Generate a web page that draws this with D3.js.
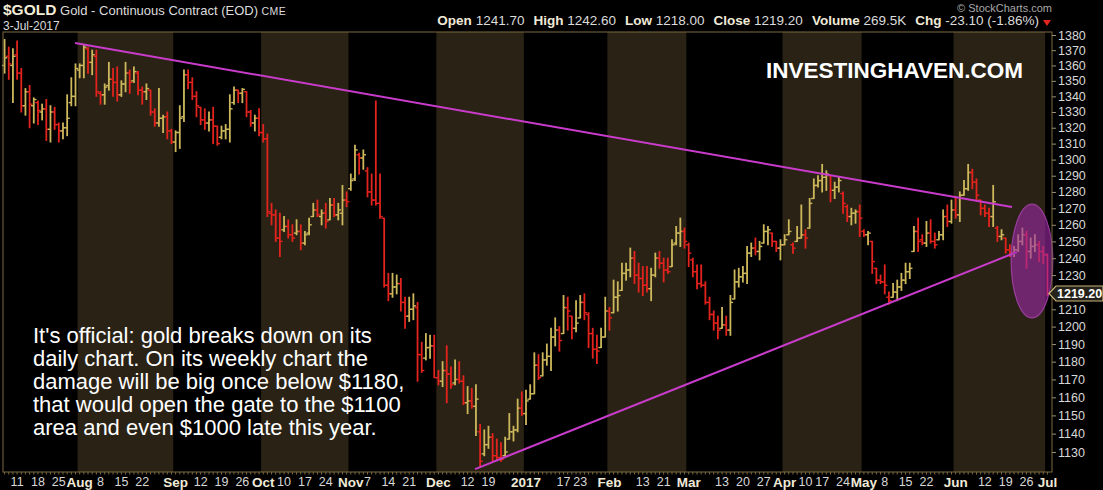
<!DOCTYPE html>
<html><head><meta charset="utf-8">
<script src="https://cdn.jsdelivr.net/npm/d3@7"></script>
<style>html,body{margin:0;padding:0;background:#000;overflow:hidden}svg{display:block}</style>
</head><body>
<svg id="chart" width="1103" height="490"></svg>
<script>
// ---------- DATA ----------
const startDate = "2016-07-06", endDate = "2017-07-03";
const holidays = ["2016-09-05","2016-11-24","2016-12-26","2017-01-02","2017-01-16","2017-02-20","2017-04-14","2017-05-29"];

const openP = [
1360,1366,1360,1367,1355,1334,1343,1334,1336,1330,
1332,1319,1330,1322,1318,1320,1336,1340,1357,1360,
1371,1362,1366,1342,1341,1347,1351,1349,1341,1348,
1355,1350,1355,1344,1343,1344,1330,1323,1326,1327,
1318,1311,1317,1327,1354,1349,1340,1333,1325,1323,
1325,1321,1314,1318,1319,1336,1344,1342,1343,1330,
1323,1326,1317,1313,1267,1266,1252,1257,1259,1254,
1255,1256,1249,1255,1265,1269,1265,1267,1263,1272,
1266,1267,1275,1282,1288,1303,1301,1293,1280,1275,
1273,1264,1224,1219,1223,1225,1214,1206,1210,1211,
1184,1182,1188,1189,1171,1169,1175,1173,1168,1170,
1169,1157,1158,1155,1141,1129,1134,1138,1128,1127,
1128,1137,1141,1142,1154,1151,1159,1162,1178,1172,
1181,1183,1194,1198,1196,1211,1206,1199,1205,1214,
1207,1196,1187,1188,1194,1209,1208,1217,1221,1231,
1233,1240,1230,1228,1224,1222,1230,1240,1237,1233,
1235,1249,1255,1256,1248,1239,1232,1225,1224,1214,
1207,1202,1199,1201,1198,1216,1226,1229,1231,1243,
1246,1244,1249,1256,1255,1250,1246,1248,1254,1248,
1250,1252,1254,1258,1276,1284,1287,1289,1290,1281,
1283,1279,1271,1265,1267,1268,1256,1254,1250,1234,
1227,1226,1217,1217,1220,1223,1227,1232,1244,1256,
1251,1249,1255,1250,1251,1254,1265,1262,1269,1266,
1278,1282,1292,1286,1275,1270,1267,1265,1258,1253,
1252,1245,1243,1245,1250,1254,1244,1247,1248,1244,
1241.7];

const high = [
1377,1372,1371,1376,1358,1345,1347,1339,1337,1335,
1338,1334,1333,1323,1323,1341,1352,1361,1361,1373,
1372,1370,1370,1343,1348,1362,1358,1359,1350,1362,
1357,1359,1356,1346,1348,1344,1332,1345,1328,1330,
1319,1318,1334,1357,1357,1352,1343,1333,1332,1330,
1333,1321,1321,1322,1341,1346,1344,1345,1343,1331,
1328,1332,1322,1316,1273,1269,1267,1265,1263,1260,
1263,1260,1256,1264,1273,1275,1269,1273,1276,1276,
1273,1284,1280,1291,1309,1304,1306,1295,1291,1337,
1291,1264,1231,1231,1230,1228,1217,1217,1219,1214,
1191,1196,1195,1195,1175,1180,1189,1177,1181,1180,
1172,1166,1165,1167,1145,1142,1144,1140,1137,1135,
1138,1151,1144,1159,1163,1164,1167,1185,1184,1185,
1190,1199,1205,1200,1218,1217,1206,1215,1218,1219,
1208,1199,1195,1199,1217,1211,1227,1226,1237,1237,
1246,1244,1237,1235,1235,1234,1243,1244,1240,1240,
1251,1259,1264,1258,1249,1240,1236,1236,1226,1217,
1209,1206,1211,1206,1218,1233,1234,1235,1247,1249,
1252,1250,1260,1259,1255,1250,1251,1254,1263,1249,
1259,1272,1257,1276,1288,1290,1297,1293,1290,1286,
1289,1280,1272,1270,1269,1272,1257,1256,1250,1234,
1230,1236,1220,1225,1227,1231,1237,1237,1259,1264,
1254,1262,1263,1255,1256,1269,1272,1275,1277,1280,
1287,1297,1294,1288,1275,1272,1270,1284,1259,1257,
1252,1248,1247,1254,1258,1256,1252,1254,1250,1247,
1242.6];

const low = [
1355,1351,1336,1351,1330,1328,1320,1323,1322,1325,
1312,1311,1319,1311,1313,1315,1334,1334,1352,1352,
1355,1354,1340,1335,1335,1344,1340,1337,1340,1343,
1342,1349,1341,1335,1338,1328,1321,1321,1317,1313,
1310,1305,1307,1324,1345,1338,1327,1322,1319,1318,
1310,1309,1313,1313,1311,1335,1336,1336,1327,1321,
1318,1315,1311,1265,1260,1250,1241,1256,1252,1250,
1254,1245,1248,1254,1265,1265,1260,1258,1263,1265,
1263,1260,1271,1281,1287,1291,1294,1277,1272,1272,
1264,1223,1215,1217,1219,1209,1199,1203,1204,1169,
1174,1181,1182,1171,1167,1166,1157,1165,1167,1168,
1156,1151,1154,1139,1122,1128,1132,1125,1126,1125,
1128,1137,1136,1141,1150,1145,1159,1162,1170,1172,
1178,1175,1189,1186,1196,1198,1193,1197,1205,1204,
1188,1182,1179,1188,1194,1198,1208,1209,1221,1227,
1229,1225,1220,1218,1220,1215,1229,1234,1226,1231,
1235,1248,1247,1246,1235,1229,1222,1223,1213,1204,
1198,1193,1199,1195,1195,1216,1223,1226,1225,1241,
1242,1239,1249,1248,1247,1244,1239,1248,1254,1243,
1250,1252,1246,1258,1276,1283,1280,1281,1274,1276,
1280,1267,1262,1260,1261,1253,1253,1248,1231,1225,
1225,1219,1213,1217,1215,1221,1225,1228,1244,1244,
1248,1247,1249,1246,1251,1251,1259,1261,1264,1262,
1278,1281,1282,1275,1266,1265,1259,1259,1250,1251,
1243,1241,1241,1244,1248,1234,1240,1244,1238,1237,
1218];

const close = [
1365,1361,1366,1355,1334,1343,1335,1338,1331,1332,
1319,1330,1322,1318,1320,1326,1340,1358,1360,1372,
1362,1367,1343,1341,1346,1351,1349,1341,1348,1355,
1349,1356,1344,1343,1345,1330,1323,1326,1327,1318,
1311,1317,1326,1354,1349,1340,1334,1325,1323,1325,
1321,1310,1318,1319,1332,1344,1342,1344.5,1330,1323,
1326,1317,1313,1268,1266,1252,1250,1259,1254,1252,
1256,1249,1254,1260,1269,1266,1267,1262,1272,1266,
1269,1275,1274,1287,1306,1301,1303,1280,1275,1273,
1265,1224,1219,1223,1225,1214,1206,1210,1212,1184,
1175,1188,1189,1171,1169,1175,1173,1167,1170,1169,
1157,1158,1155,1159,1125,1134,1138,1128,1127,1126,
1130,1141,1142,1154,1151,1158,1162,1178,1171,1181,
1183,1194,1198,1192,1211,1209,1199,1202,1214,1208,
1196,1187,1186,1194,1209,1205,1217,1218,1231,1233,
1240,1230,1228,1224,1222,1230,1240,1237,1233,1232,
1248,1255,1256,1250,1243,1232,1225,1224,1214,1207,
1202,1198,1201,1198,1214,1226,1229,1231,1243,1246,
1244,1247,1256,1257,1250,1246,1248,1251,1256,1246,
1252,1254,1252,1273,1284,1287,1289,1291,1281,1283,
1287,1273,1265,1267,1268,1264,1254,1255,1238,1227,
1226,1224,1215,1220,1223,1227,1232,1234,1256,1250,
1249,1255,1250,1248,1254,1265,1262,1269,1266,1278,
1282,1292,1286,1278,1270,1267,1265,1274,1253,1254,
1245,1243,1245,1250,1254,1244,1247,1248,1244,1242.3,
1219.2];

const yTicks = [1130,1140,1150,1160,1170,1180,1190,1200,1210,1230,1240,1250,1260,1270,1280,1290,1300,1310,1320,1330,1340,1350,1360,1370,1380];

const xLabels = [
["2016-07-11","11",0],["2016-07-18","18",0],["2016-07-25","25",0],["2016-08-01","Aug",1],
["2016-08-08","8",0],["2016-08-15","15",0],["2016-08-22","22",0],["2016-09-01","Sep",1],
["2016-09-12","12",0],["2016-09-19","19",0],["2016-09-26","26",0],["2016-10-03","Oct",1],
["2016-10-10","10",0],["2016-10-17","17",0],["2016-10-24","24",0],["2016-11-01","Nov",1],
["2016-11-07","7",0],["2016-11-14","14",0],["2016-11-21","21",0],["2016-12-01","Dec",1],
["2016-12-12","12",0],["2016-12-19","19",0],["2017-01-03","2017",1],["2017-01-17","17",0],
["2017-01-23","23",0],["2017-02-01","Feb",1],["2017-02-13","13",0],["2017-02-21","21",0],
["2017-03-01","Mar",1],["2017-03-13","13",0],["2017-03-20","20",0],["2017-03-27","27",0],
["2017-04-03","Apr",1],["2017-04-10","10",0],["2017-04-17","17",0],["2017-04-24","24",0],
["2017-05-01","May",1],["2017-05-08","8",0],["2017-05-15","15",0],["2017-05-22","22",0],
["2017-06-01","Jun",1],["2017-06-12","12",0],["2017-06-19","19",0],["2017-06-26","26",0],
["2017-07-03","Jul",1]];

// trendlines: [bar index, price]
const upperTrend = [[16.9,1374.7],[241.5,1270.8]];
const lowerTrend = [[112.8,1120.8],[242.7,1243.7]];
// highlight ellipse: centre bar index, half width in bars, top / bottom price
const ellipseSpec = [246.3, 5, 1272.5, 1205];

const headerStats = [["Open","1241.70"],["High","1242.60"],["Low","1218.00"],["Close","1219.20"],["Volume","269.5K"],["Chg","-23.10 (-1.86%)"]];
const noteLines = ["It's official: gold breaks down on its","daily chart. On its weekly chart the","damage will be big once below $1180,","that would open the gate to the $1100","area and even $1000 late this year."];

// ---------- CHART ----------
const font = "'Liberation Sans', Arial, Helvetica, sans-serif";
const plot = {left:3, right:1052, top:32, bottom:472};
const UP = "#cdb95c", DOWN = "#e3231d", BAND = "#2a2215", FRAME = "#7a6a40", MAG = "#c93ccb";

const parse = d3.utcParse("%Y-%m-%d"), fmt = d3.utcFormat("%Y-%m-%d");
const hol = new Set(holidays);
const dates = d3.utcDay.range(parse(startDate), d3.utcDay.offset(parse(endDate),1))
  .filter(d => d.getUTCDay()!==0 && d.getUTCDay()!==6 && !hol.has(fmt(d))).map(fmt);
const n = dates.length;

const x = d3.scaleBand().domain(dates).range([2.5,1049.5]);
const xi = d3.scaleLinear().domain([-0.5, n-0.5]).range([2.5,1049.5]);
const y = d3.scaleLog().domain([1130,1380]).range([452,35]);
const cx = d => x(d) + x.bandwidth()/2;

const svg = d3.select("#chart").style("font-family", font);
svg.append("rect").attr("width",1103).attr("height",490).attr("fill","#000");

// month bands
const monthStarts = [];
dates.forEach((d,i)=>{ if(i===0 || d.slice(0,7)!==dates[i-1].slice(0,7)) monthStarts.push(i); });
monthStarts.forEach((s,k)=>{
  const x0 = k===0 ? plot.left : x(dates[s]);
  const x1 = k===monthStarts.length-1 ? plot.right : x(dates[monthStarts[k+1]]);
  const m = parse(dates[s]).getUTCMonth();
  svg.append("rect").attr("x",x0).attr("y",plot.top).attr("width",x1-x0).attr("height",plot.bottom-plot.top)
     .attr("fill", m%2===1 ? BAND : "#000");
});

// bars
const bars = dates.map((d,i)=>({d,i,o:openP[i],h:high[i],l:low[i],c:close[i],up: i===0 || close[i]>=close[i-1]}));
const gb = svg.append("g");
const bg = gb.selectAll("g").data(bars).join("g").attr("stroke", b=>b.up?UP:DOWN).attr("stroke-width",1.8);
bg.append("line").attr("x1",b=>cx(b.d)).attr("x2",b=>cx(b.d)).attr("y1",b=>y(b.h)-0.5).attr("y2",b=>y(b.l)+0.5);
bg.append("line").attr("x1",b=>cx(b.d)-2.7).attr("x2",b=>cx(b.d)).attr("y1",b=>y(b.o)).attr("y2",b=>y(b.o)).attr("stroke-width",1.4);
bg.append("line").attr("x1",b=>cx(b.d)).attr("x2",b=>cx(b.d)+2.7).attr("y1",b=>y(b.c)).attr("y2",b=>y(b.c)).attr("stroke-width",1.4);

// trendlines
[upperTrend, lowerTrend].forEach(t=>{
  svg.append("line").attr("x1",xi(t[0][0])).attr("y1",y(t[0][1])).attr("x2",xi(t[1][0])).attr("y2",y(t[1][1]))
     .attr("stroke",MAG).attr("stroke-width",2);
});

// ellipse
{
  const [ci, hw, top, bot] = ellipseSpec;
  svg.append("ellipse").attr("cx",xi(ci)).attr("cy",(y(top)+y(bot))/2)
    .attr("rx",xi(ci+hw)-xi(ci)).attr("ry",(y(bot)-y(top))/2)
    .attr("fill","#a02aa8").attr("fill-opacity",0.6).attr("stroke","#b848c0").attr("stroke-width",1.2).attr("stroke-opacity",0.7);
}

// frame
svg.append("rect").attr("x",plot.left).attr("y",plot.top).attr("width",plot.right-plot.left).attr("height",plot.bottom-plot.top)
   .attr("fill","none").attr("stroke",FRAME).attr("stroke-width",1);
// bottom day ticks
svg.append("g").selectAll("line").data(dates).join("line")
   .attr("x1",cx).attr("x2",cx).attr("y1",plot.bottom).attr("y2",plot.bottom+2.5).attr("stroke",FRAME).attr("stroke-width",1);

// y axis
const yAxis = d3.axisRight(y).tickValues(yTicks).tickFormat(d3.format("d")).tickSize(4).tickPadding(2);
const ga = svg.append("g").attr("transform",`translate(${plot.right},0)`).call(yAxis);
ga.select(".domain").remove();
ga.selectAll(".tick line").attr("stroke","#9a9070");
ga.selectAll(".tick text").attr("fill","#d8d8d8").style("font-size","12.5px").style("font-family",font);

// x axis
const lab = new Map(xLabels.map(l=>[l[0],l]));
const xAxis = d3.axisBottom(x).tickValues(xLabels.map(l=>l[0])).tickFormat(d=>lab.get(d)[1]).tickSize(0).tickPadding(5);
const gx = svg.append("g").attr("transform",`translate(0,${plot.bottom})`).call(xAxis);
gx.select(".domain").remove();
gx.selectAll(".tick text").attr("fill", d=>lab.get(d)[2]?"#f0ead8":"#d8d8d8")
  .style("font-family",font).style("font-size", d=>lab.get(d)[2]?"13.5px":"12.5px")
  .style("font-weight", d=>lab.get(d)[2]?"bold":"normal");

// last price tag
{
  const yy = y(close[n-1]);
  svg.append("path").attr("d",`M1049,${yy} L1056,${yy-7.5} L1103,${yy-7.5} L1103,${yy+7.5} L1056,${yy+7.5} Z`)
     .attr("fill","#24221a").attr("stroke","#c8b478").attr("stroke-width",1.2);
  svg.append("text").attr("x",1057).attr("y",yy+4.5).text(d3.format(".2f")(close[n-1]))
     .attr("fill","#fff").style("font-weight","bold").style("font-size","12.5px");
}

// header
{
  const t = svg.append("text").attr("x",3).attr("y",14.5);
  t.append("tspan").text("$GOLD").attr("fill","#f2ecd8").style("font-weight","bold").style("font-size","15.5px");
  t.append("tspan").text(" Gold - Continuous Contract (EOD)").attr("fill","#dcdcdc").style("font-size","13px");
  t.append("tspan").text(" CME").attr("fill","#dcdcdc").style("font-size","10.5px").attr("letter-spacing","0.5");
  svg.append("text").attr("x",3).attr("y",29.5).text(d3.utcFormat("%-d-%b-%Y")(parse(dates[n-1])))
     .attr("fill","#dcdcdc").style("font-size","12px");
  const h = svg.append("text").attr("x",1039).attr("y",25).attr("text-anchor","end").style("font-size","13.5px");
  headerStats.forEach((s,k)=>{
    h.append("tspan").text(s[0]).attr("dx",k?9:0).attr("fill","#f0ead8").style("font-weight","bold");
    h.append("tspan").text(" "+s[1]).attr("fill","#dcdcdc");
  });
  svg.append("path").attr("d","M1043,20 L1051,20 L1047,26 Z").attr("fill","#e3231d");
  svg.append("text").attr("x",1052).attr("y",12).attr("text-anchor","end").text("\u00A9 StockCharts.com")
     .attr("fill","#a8a8a8").style("font-size","11px");
}

// annotations
svg.append("text").attr("x",766).attr("y",78).text("INVESTINGHAVEN.COM").attr("fill","#fff")
   .style("font-weight","bold").style("font-size","22.5px");
const nt = svg.append("text").attr("fill","#fff").style("font-size","22px");
noteLines.forEach((l,k)=> nt.append("tspan").attr("x",33).attr("y",343+k*23).text(l));
</script>
</body></html>
